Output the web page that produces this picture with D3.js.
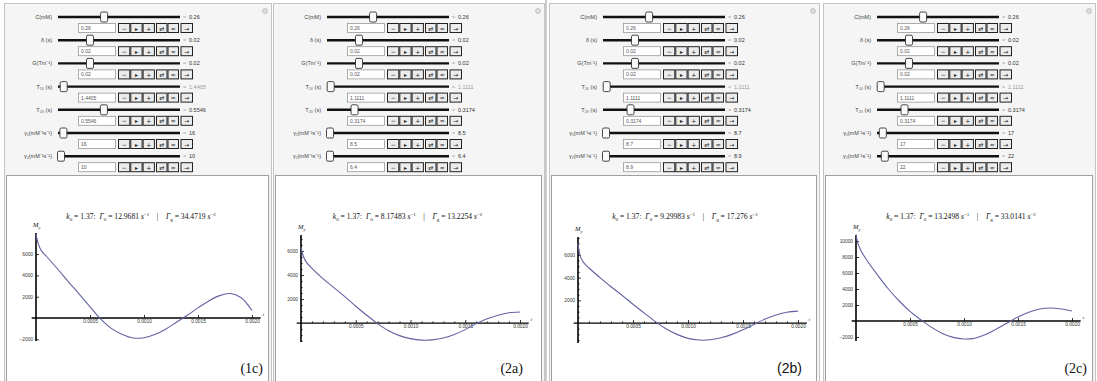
<!DOCTYPE html>
<html>
<head>
<meta charset="utf-8">
<script src="https://cdn.jsdelivr.net/npm/d3@7"></script>
<style>
  body { margin: 0; background: #fff; }
  svg { display: block; }
  .title { white-space: pre; }
</style>
</head>
<body>
<svg id="chart" width="1097" height="381"></svg>
<script>
// time grid (s) shared by the four curves
const timeGrid = [0, 0.00002, 0.00005, 0.0001, 0.0002, 0.0003, 0.0004, 0.0005, 0.0006, 0.0007,
  0.0008, 0.0009, 0.001, 0.0011, 0.0012, 0.0013, 0.0014, 0.0015, 0.0016, 0.0017, 0.0018, 0.0019, 0.002];

// M_y
const my1c = [7900, 7000, 6300, 5750, 4600, 3400, 2250, 1050, -100, -1000, -1550, -1880, -1850,
  -1550, -1050, -400, 250, 950, 1600, 2100, 2300, 1900, 700];
const my2a = [6300, 5600, 5050, 4550, 3700, 2950, 2200, 1400, 650, -50, -650, -1050, -1300,
  -1420, -1400, -1250, -950, -550, -50, 350, 650, 850, 920];
const my2b = [7000, 5900, 5350, 4850, 4000, 3200, 2450, 1650, 900, 150, -500, -1000, -1350,
  -1500, -1480, -1300, -1000, -600, -120, 350, 700, 950, 1050];
const my2c = [10800, 9600, 8700, 7600, 5750, 4000, 2500, 1200, 150, -800, -1550, -2050, -2250,
  -2150, -1700, -1000, -250, 500, 1100, 1500, 1620, 1500, 1250];

const panelNames = ['(1c)', '(2a)', '(2b)', '(2c)'];
const k0 = '1.37';
const gamma0 = ['12.9681', '8.17483', '9.29983', '13.2498'];
const gammaG = ['34.4719', '13.2254', '17.276', '33.0141'];
const xTicks = [0.0005, 0.001, 0.0015, 0.002];

const sliderLabels = ['C(mM)', 'δ (s)', 'G(Tm⁻¹)', 'T₁₀ (s)', 'T₂₀ (s)', 'γ₁(mM⁻¹s⁻¹)', 'γ₂(mM⁻¹s⁻¹)'];
const sliderRanges = [[0, 0.7], [0, 0.08], [0, 0.08], [1, 20], [0, 1.5], [10, 300], [10, 300]];
const sliders1c = ['0.26', '0.02', '0.02', '1.4405', '0.5546', '16', '10'];
const sliders2a = ['0.26', '0.02', '0.02', '1.1111', '0.3174', '8.5', '6.4'];
const sliders2b = ['0.26', '0.02', '0.02', '1.1111', '0.3174', '8.7', '8.9'];
const sliders2c = ['0.26', '0.02', '0.02', '1.1111', '0.3174', '17', '22'];
const buttonGlyphs = ['−', '▸', '+', '⇄', '≈', '→'];

// layout (pixels)
const panels = [
  {frame: [4, 272], ox: 0, series: my1c, sliders: sliders1c, x0: 36, x1: 252, yTop: 233, yBot: 341, yDom: [-2160, 7980], minor: false, font: 'Liberation Serif', labelX: 263},
  {frame: [273, 545], ox: 269, series: my2a, sliders: sliders2a, x0: 301, x1: 520, yTop: 235, yBot: 342, yDom: [-1580, 7330], minor: true, font: 'Liberation Serif', labelX: 523},
  {frame: [549, 820], ox: 545, series: my2b, sliders: sliders2b, x0: 578, x1: 798, yTop: 237, yBot: 343, yDom: [-1760, 7580], minor: true, font: 'Liberation Sans', labelX: 802},
  {frame: [823, 1096], ox: 819, series: my2c, sliders: sliders2c, x0: 856, x1: 1072, yTop: 235, yBot: 341, yDom: [-2500, 10750], minor: false, font: 'Liberation Serif', labelX: 1087}
];

const svg = d3.select('#chart');
const ctrlFont = 'Liberation Sans';

panels.forEach((p, pi) => {
  const g = svg.append('g');
  const [fx0, fx1] = p.frame;

  // panel background + border
  g.append('rect')
      .attr('x', fx0 + 0.5).attr('y', 3.5)
      .attr('width', fx1 - fx0 - 1).attr('height', 390)
      .attr('fill', '#f5f5f5').attr('stroke', '#c4c4c4');

  // little toggle icon top right
  g.append('circle')
      .attr('cx', fx1 - 7).attr('cy', 11).attr('r', 2.5)
      .attr('fill', '#ddd').attr('stroke', '#bbb').attr('stroke-width', 0.8);

  // ---- controls ----
  p.sliders.forEach((val, i) => {
    const ty = 17 + i * 23.2;
    const ox = p.ox;
    const sx = d3.scaleLinear().domain(sliderRanges[i]).range([ox + 61, ox + 177]).clamp(true);

    g.append('text')
        .attr('x', ox + 52).attr('y', ty + 2)
        .attr('text-anchor', 'end')
        .attr('font-family', ctrlFont).attr('font-size', 5.5)
        .attr('fill', '#444')
        .text(sliderLabels[i]);

    g.append('line')
        .attr('x1', ox + 58).attr('x2', ox + 180)
        .attr('y1', ty).attr('y2', ty)
        .attr('stroke', '#111').attr('stroke-width', 2.4);

    g.append('rect')
        .attr('x', sx(+val) - 3.5).attr('y', ty - 5)
        .attr('width', 7).attr('height', 10).attr('rx', 1.5)
        .attr('fill', '#fafafa').attr('stroke', '#333').attr('stroke-width', 0.9);

    g.append('text')
        .attr('x', ox + 183).attr('y', ty + 2)
        .attr('font-family', ctrlFont).attr('font-size', 5.5)
        .attr('fill', '#aaa').text('=');
    g.append('text')
        .attr('x', ox + 189).attr('y', ty + 2)
        .attr('font-family', ctrlFont).attr('font-size', 5.5)
        .attr('fill', i === 3 ? '#999' : '#333').text(val);

    // input field
    g.append('rect')
        .attr('x', ox + 78.5).attr('y', ty + 6.5)
        .attr('width', 37).attr('height', 9)
        .attr('fill', '#fff').attr('stroke', '#999').attr('stroke-width', 0.8);
    g.append('text')
        .attr('x', ox + 81).attr('y', ty + 13)
        .attr('font-family', ctrlFont).attr('font-size', 5)
        .attr('fill', '#555').text(val);

    // button bar
    const bx = [118, 130.3, 142.6, 156, 167.5, 180.5];
    const bw = [12.3, 12.3, 12.3, 11.5, 11.5, 12.5];
    buttonGlyphs.forEach((gl, j) => {
      g.append('rect')
          .attr('x', ox + bx[j] + 0.5).attr('y', ty + 6.5)
          .attr('width', bw[j] - 1).attr('height', 9)
          .attr('fill', '#ececec').attr('stroke', '#222').attr('stroke-width', 1);
      g.append('text')
          .attr('x', ox + bx[j] + bw[j] / 2).attr('y', ty + 13.5)
          .attr('text-anchor', 'middle')
          .attr('font-family', 'DejaVu Sans').attr('font-size', 6)
          .attr('fill', '#222').text(gl);
    });
  });

  // ---- plot area ----
  g.append('rect')
      .attr('x', fx0 + 2.5).attr('y', 175.5)
      .attr('width', fx1 - fx0 - 6).attr('height', 215)
      .attr('fill', '#fff').attr('stroke', '#444')
      .attr('stroke-dasharray', '1,1');

  const x = d3.scaleLinear().domain([0, 0.002]).range([p.x0, p.x1]);
  const y = d3.scaleLinear().domain(p.yDom).range([p.yBot, p.yTop]);
  const cx = (p.x0 + p.x1) / 2 - 3;

  // title
  const title = g.append('text')
      .attr('class', 'title')
      .attr('x', cx).attr('y', 219)
      .attr('text-anchor', 'middle')
      .attr('font-family', 'Liberation Serif').attr('font-size', 7.6)
      .attr('fill', '#111');
  const sub = (t) => title.append('tspan').attr('font-size', 5).attr('dy', 1.5).text(t);
  const up = (t) => title.append('tspan').attr('font-size', 5).attr('dy', -3).text(t);
  const plain = (t, dy) => title.append('tspan').attr('dy', dy).text(t);
  title.append('tspan').attr('font-style', 'italic').text('k');
  sub('0');
  plain(' = ' + k0 + ':  ', -1.5);
  title.append('tspan').attr('font-style', 'italic').text('Γ');
  sub('0');
  plain(' = ' + gamma0[pi] + ' ', -1.5);
  title.append('tspan').attr('font-style', 'italic').text('s');
  up('−1');
  plain('    |    ', 3);
  title.append('tspan').attr('font-style', 'italic').text('Γ');
  sub('g');
  plain(' = ' + gammaG[pi] + ' ', -1.5);
  title.append('tspan').attr('font-style', 'italic').text('s');
  up('−2');

  // y label
  const yl = g.append('text')
      .attr('x', p.x0 - 3).attr('y', p.yTop - 6)
      .attr('font-family', 'Liberation Serif').attr('font-size', 6.5)
      .attr('fill', '#111');
  yl.append('tspan').attr('font-style', 'italic').text('M');
  yl.append('tspan').attr('font-style', 'italic').attr('font-size', 4.5).attr('dy', 1.5).text('y');

  // axes lines
  g.append('line')
      .attr('x1', x(-0.00004)).attr('x2', x(0.00208))
      .attr('y1', y(0)).attr('y2', y(0))
      .attr('stroke', '#000').attr('stroke-width', 1.3);
  g.append('line')
      .attr('x1', x(0)).attr('x2', x(0))
      .attr('y1', p.yTop).attr('y2', p.yBot)
      .attr('stroke', '#000').attr('stroke-width', 1.6);
  g.append('text')
      .attr('x', x(0.00208) + 2).attr('y', y(0) - 2)
      .attr('font-family', 'Liberation Serif').attr('font-style', 'italic')
      .attr('font-size', 5).attr('fill', '#333').text('t');

  const yTicks = d3.range(-10000, 12001, 2000)
      .filter(v => v !== 0 && v >= p.yDom[0] && v <= p.yDom[1]);

  g.append('g')
      .attr('transform', `translate(0,${y(0)})`)
      .call(d3.axisBottom(x).tickValues(xTicks).tickSize(-3).tickPadding(2)
          .tickFormat(d3.format('.4f')));
  g.append('g')
      .attr('transform', `translate(${x(0)},0)`)
      .call(d3.axisLeft(y).tickValues(yTicks).tickSize(-3).tickPadding(3)
          .tickFormat(d3.format('d')));

  if (p.minor) {
    const xm = d3.range(0.0001, 0.00201, 0.0001).filter(v => Math.abs(v / 0.0005 - Math.round(v / 0.0005)) > 1e-6);
    const ym = d3.range(-1500, p.yDom[1], 500).filter(v => v % 2000 !== 0);
    g.append('g').attr('transform', `translate(0,${y(0)})`)
        .call(d3.axisBottom(x).tickValues(xm).tickSize(-1.6).tickFormat(''));
    g.append('g').attr('transform', `translate(${x(0)},0)`)
        .call(d3.axisLeft(y).tickValues(ym).tickSize(-1.6).tickFormat(''));
  }

  g.selectAll('.domain').remove();
  g.selectAll('.tick line').attr('stroke', '#000').attr('stroke-width', 0.8);
  g.selectAll('.tick text')
      .attr('font-family', 'Liberation Sans').attr('font-size', 4.8).attr('fill', '#333');

  // curve
  const line = d3.line()
      .x((d, i) => x(timeGrid[i]))
      .y(d => y(d))
      .curve(d3.curveCatmullRom.alpha(0.5));
  g.append('path')
      .datum(p.series)
      .attr('d', line)
      .attr('fill', 'none')
      .attr('stroke', '#6262a2')
      .attr('stroke-width', 1.1);

  // figure label
  g.append('text')
      .attr('x', p.labelX).attr('y', 373)
      .attr('text-anchor', 'end')
      .attr('font-family', p.font).attr('font-size', 14)
      .attr('fill', '#111')
      .text(panelNames[pi]);
});

// separator between the two screenshots
svg.append('line').attr('x1', 546).attr('x2', 546).attr('y1', 0).attr('y2', 381)
    .attr('stroke', '#999').attr('stroke-width', 1);
</script>
</body>
</html>
